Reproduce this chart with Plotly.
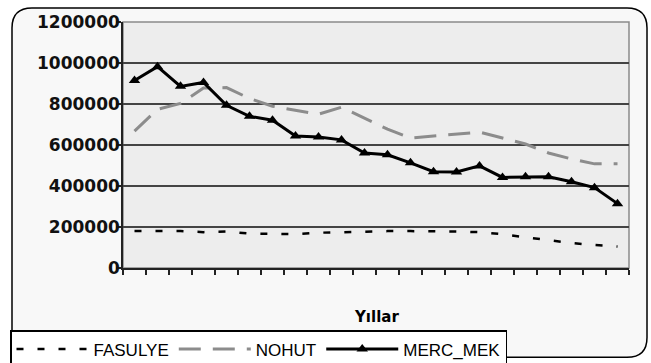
import plotly.graph_objects as go

years = [str(y) for y in range(1985, 2007)]
fasulye = [180000, 180000, 180000, 175000, 178000, 168000, 165000, 165000, 172000, 175000, 178000,
           180000, 180000, 180000, 178000, 175000, 165000, 150000, 135000, 122000, 112000, 105000]
nohut = [668000, 774000, 803000, 878000, 880000, 827000, 789000, 769000, 750000, 784000, 731000,
         677000, 634000, 644000, 653000, 663000, 634000, 605000, 561000, 532000, 508000, 508000]
merc_mek = [915000, 982000, 886000, 905000, 794000, 740000, 721000, 644000, 639000, 625000, 561000,
            552000, 513000, 470000, 468000, 498000, 442000, 445000, 445000, 421000, 392000, 314000]
y_ticks = [0, 200000, 400000, 600000, 800000, 1000000, 1200000]

W, H = 651, 363
L, R, T, B = 123, 22, 20, 95
pw, ph = W - L - R, H - T - B

def px(x):
    return (x - L) / pw

def py(y):
    return (H - B - y) / ph

fig = go.Figure()
fig.add_trace(go.Scatter(x=years, y=fasulye, name="FASULYE", mode="lines",
                         line=dict(color="black", width=2.5, dash="7px,14px")))
fig.add_trace(go.Scatter(x=years, y=nohut, name="NOHUT", mode="lines",
                         line=dict(color="#8c8c8c", width=3, dash="22px,12px")))
fig.add_trace(go.Scatter(x=years, y=merc_mek, name="MERC_MEK", mode="lines+markers",
                         line=dict(color="black", width=3),
                         marker=dict(symbol="triangle-up", size=10, color="black")))

# outer rounded frame
r = 20
def P(x, y):
    return f"{px(x)},{py(y)}"
path = (f"M {P(12, 6 + r)} Q {P(12, 6)} {P(12 + r, 6)} L {P(647 - r, 6)} Q {P(647, 6)} {P(647, 6 + r)} "
        f"L {P(647, 358 - r)} Q {P(647, 358)} {P(647 - r, 358)} L {P(12 + r, 358)} Q {P(12, 358)} {P(12, 358 - r)} Z")
fig.add_shape(type="path", path=path, xref="paper", yref="paper", layer="below",
              line=dict(color="black", width=1.5), fillcolor="#f8f8f8")
fig.add_shape(type="rect", xref="paper", yref="paper", x0=0, x1=1, y0=0, y1=1, layer="below",
              line=dict(color="#8a8a8a", width=1.5), fillcolor="#ededed")

fig.add_annotation(text="<b>Yıllar</b>", xref="paper", yref="paper", x=0.5, y=py(317),
                   showarrow=False, font=dict(family="DejaVu Sans", size=15, color="black"),
                   xanchor="center", yanchor="middle")

fig.update_layout(
    width=W, height=H, margin=dict(l=L, r=R, t=T, b=B),
    paper_bgcolor="white", plot_bgcolor="rgba(0,0,0,0)",
    showlegend=True,
    legend=dict(orientation="h", xref="container", yref="container", x=10 / W, y=(363 - 330) / H,
                xanchor="left", yanchor="top", bgcolor="white", bordercolor="black", borderwidth=1.5,
                font=dict(family="Liberation Sans", size=17, color="black"), itemwidth=72,
                tracegroupgap=0),
)
fig.update_xaxes(type="category", tickson="boundaries", ticks="outside", ticklen=5, tickwidth=1.5,
                 tickcolor="#222", showticklabels=False, showgrid=False, showline=True,
                 linecolor="#222", linewidth=1.5, range=[-0.5, 21.5])
fig.update_yaxes(range=[0, 1200000], tickvals=y_ticks, ticktext=[str(v) for v in y_ticks],
                 ticks="outside", ticklen=5, tickwidth=1.5, tickcolor="#222", ticklabelstandoff=-7,
                 showgrid=True, gridcolor="#444", gridwidth=1.5, showline=True, linecolor="#222",
                 linewidth=1.5, zeroline=False,
                 tickfont=dict(family="DejaVu Sans", size=17, color="#111", weight="bold"))

fig.write_html("out.html")
